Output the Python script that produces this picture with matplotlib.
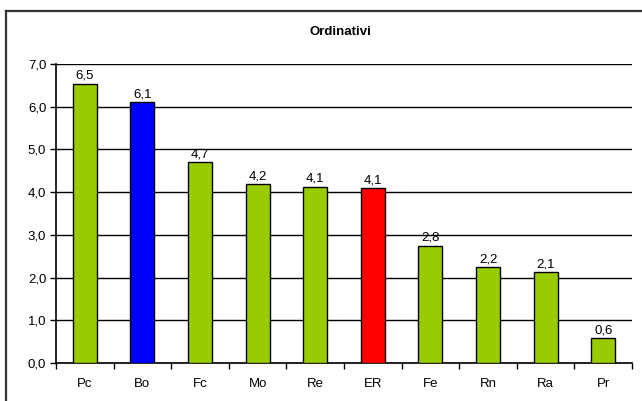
import matplotlib
matplotlib.use("Agg")
import matplotlib.pyplot as plt
from matplotlib.lines import Line2D
import numpy as np

plt.rcParams['font.family'] = ['Liberation Sans', 'DejaVu Sans']

categories = ["Pc", "Bo", "Fc", "Mo", "Re", "ER", "Fe", "Rn", "Ra", "Pr"]
values = [6.54, 6.1, 4.71, 4.19, 4.13, 4.1, 2.75, 2.25, 2.13, 0.58]
colors = ["#99CC00", "#0000FF", "#99CC00", "#99CC00", "#99CC00",
          "#FF0000", "#99CC00", "#99CC00", "#99CC00", "#99CC00"]
yticks = [0, 1, 2, 3, 4, 5, 6, 7]

W, H = 642, 401
fig = plt.figure(figsize=(W / 100, H / 100), dpi=100)
fig.patch.set_facecolor("white")

# axes box in pixels: left 56, right 632, top 64, bottom 363
ax = fig.add_axes([56 / W, 1 - 363 / H, (632 - 56) / W, (363 - 64) / H])

x = np.arange(len(categories))
ax.bar(x, values, width=0.42, color=colors, edgecolor="black", linewidth=1.0, zorder=3)

for xi, v in zip(x, values):
    ax.text(xi, v + 0.04, ("%.1f" % v).replace(".", ","), ha="center", va="bottom",
            fontsize=9.5, zorder=4)

ax.set_xlim(-0.5, len(categories) - 0.5)
ax.set_ylim(0, 7)
ax.set_yticks(yticks)
ax.set_yticklabels([("%.1f" % t).replace(".", ",") for t in yticks], fontsize=9.5)
ax.yaxis.grid(True, color="black", linewidth=1.0, zorder=0)
ax.set_axisbelow(True)

ax.set_xticks(x)
ax.set_xticklabels(categories, fontsize=9.5)
ax.tick_params(axis="x", length=0, pad=11)
ax.set_xticks(np.arange(len(categories) + 1) - 0.5, minor=True)
ax.tick_params(axis="x", which="minor", length=4, width=1.0, color="black", direction="out")
ax.tick_params(axis="y", length=4, width=1.0, pad=3)

ax.spines["top"].set_visible(False)
ax.spines["right"].set_visible(False)
ax.spines["left"].set_linewidth(1.2)
ax.spines["bottom"].set_linewidth(1.2)

fig.text(340 / W, 1 - 32 / H, "Ordinativi", ha="center", va="center",
         fontsize=9.5, fontweight="bold")

# outer chart frame (left and top edges visible)
fig.add_artist(Line2D([6 / W, 6 / W], [0, 1 - 11 / H], transform=fig.transFigure,
                      color="#333333", linewidth=1.6))
fig.add_artist(Line2D([6 / W, 1], [1 - 11 / H, 1 - 11 / H], transform=fig.transFigure,
                      color="#333333", linewidth=1.6))

fig.savefig("out.png", dpi=100)
